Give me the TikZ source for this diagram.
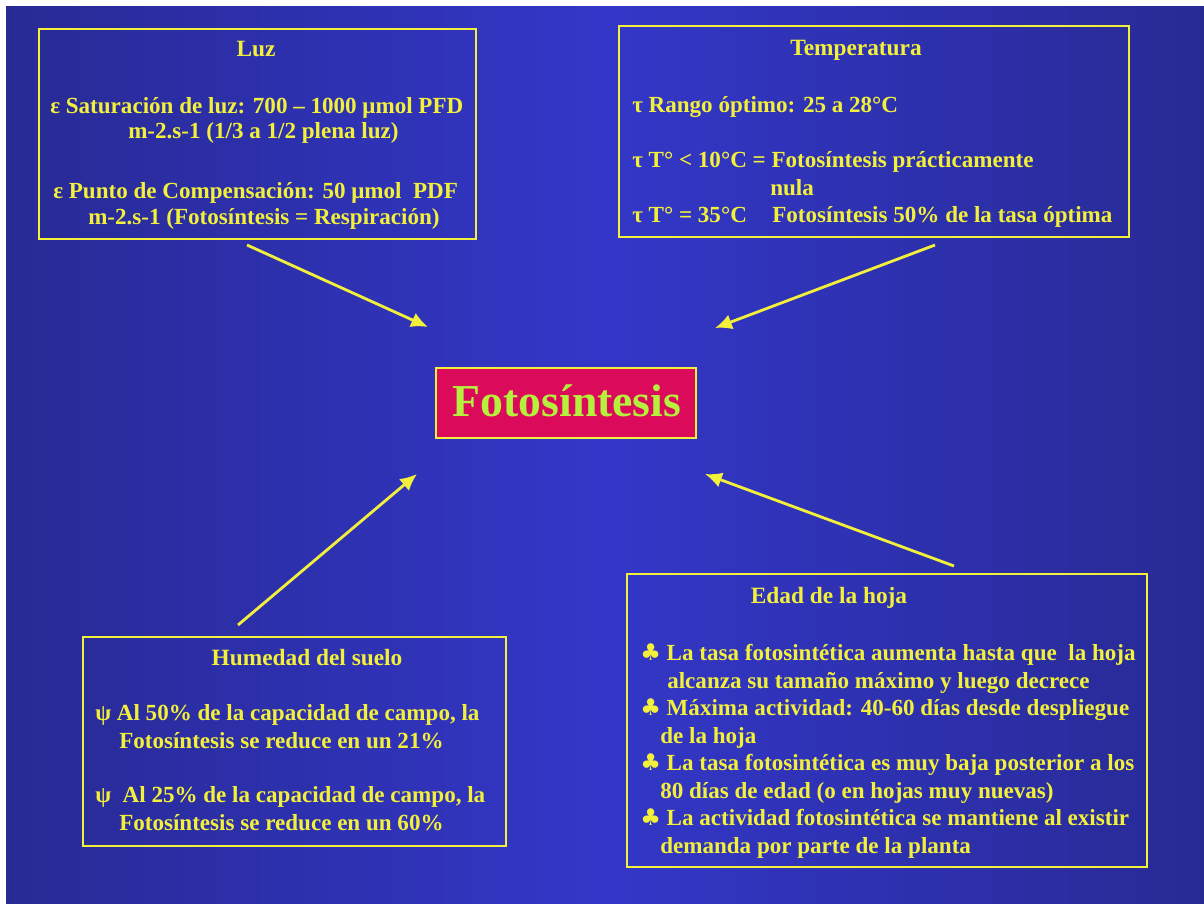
\documentclass[tikz,border=0pt]{standalone}
\usepackage{fontspec}
\setmainfont{Liberation Serif}
\newfontfamily\symfont{DejaVu Sans}
\usetikzlibrary{arrows.meta}
\definecolor{bgdark}{HTML}{282A94}
\definecolor{bgmid}{HTML}{3337C8}
\definecolor{ylw}{HTML}{F2F03A}
\definecolor{crim}{HTML}{DC0A5A}
\definecolor{lgreen}{HTML}{B4F03C}
\begin{document}
\begin{tikzpicture}[x=0.025cm,y=-0.025cm,
  box/.style={draw=ylw,line width=1.6pt,anchor=north west,inner sep=0pt},
  txt/.style={anchor=base west,inner sep=0pt,text=ylw,font=\fontsize{16.4}{19}\selectfont\bfseries},
  ttl/.style={anchor=base,inner sep=0pt,text=ylw,font=\fontsize{16.6}{19}\selectfont\bfseries},
  arr/.style={draw=ylw,line width=2pt,-{Latex[length=12pt,width=11pt]}}]
\useasboundingbox (0,0) rectangle (1204,903);
\fill[white] (0,0) rectangle (1204,903);
\shade[left color=bgdark,right color=bgdark,middle color=bgmid] (6,6) rectangle (1204,903);

% boxes
\node[box,minimum width=10.925cm,minimum height=5.25cm] (luz) at (38,28) {};
\node[box,minimum width=12.75cm,minimum height=5.275cm] (temp) at (618,25) {};
\node[box,minimum width=10.575cm,minimum height=5.225cm] (hum) at (82,636) {};
\node[box,minimum width=13cm,minimum height=7.325cm] (edad) at (626,573) {};
\node[box,fill=crim,minimum width=6.5cm,minimum height=1.75cm] (foto) at (435,367) {};
\node[anchor=base,inner sep=0pt,text=lgreen,font=\fontsize{32.5}{36}\selectfont\bfseries] (fotot) at (567,416) {Fotosíntesis};

% Luz
\node[ttl] (luzt) at (256,56) {Luz};
\node[txt] (luz1) at (50,113) {ε Saturación de luz: 700 – 1000 μmol PFD};
\node[txt] (luz2) at (128,138) {m-2.s-1 (1/3 a 1/2 plena luz)};
\node[txt] (luz3) at (53,198) {ε Punto de Compensación: 50 μmol\ \ PDF};
\node[txt] (luz4) at (88,224) {m-2.s-1 (Fotosíntesis = Respiración)};

% Temperatura
\node[ttl] (tempt) at (856,55) {Temperatura};
\node[txt] (tem1) at (632,112) {τ Rango óptimo: 25 a 28°C};
\node[txt] (tem2) at (632,167) {τ T° < 10°C = Fotosíntesis prácticamente};
\node[txt] (tem3) at (770,195) {nula};
\node[txt] (tem4) at (632,222) {τ T° = 35°C};
\node[txt] (tem5) at (772,222) {Fotosíntesis 50\% de la tasa óptima};

% Humedad
\node[ttl] (humt) at (307,665) {Humedad del suelo};
\node[txt] (hum1) at (95,720) {ψ Al 50\% de la capacidad de campo, la};
\node[txt] (hum2) at (119,748) {Fotosíntesis se reduce en un 21\%};
\node[txt] (hum3) at (95,802) {ψ\ \ Al 25\% de la capacidad de campo, la};
\node[txt] (hum4) at (119,830) {Fotosíntesis se reduce en un 60\%};

% Edad
\node[ttl] (edadt) at (829,603) {Edad de la hoja};
\node[txt] (e1) at (640,660) {{\symfont ♣} La tasa fotosintética aumenta hasta que\ \ la hoja};
\node[txt] (e2) at (667,688) {alcanza su tamaño máximo y luego decrece};
\node[txt] (e3) at (640,715) {{\symfont ♣} Máxima actividad: 40-60 días desde despliegue};
\node[txt] (e4) at (660,743) {de la hoja};
\node[txt] (e5) at (640,770) {{\symfont ♣} La tasa fotosintética es muy baja posterior a los};
\node[txt] (e6) at (660,798) {80 días de edad (o en hojas muy nuevas)};
\node[txt] (e7) at (640,825) {{\symfont ♣} La actividad fotosintética se mantiene al existir};
\node[txt] (e8) at (660,853) {demanda por parte de la planta};

% arrows
\coordinate (a1s) at (247,245); \coordinate (a1e) at (428,327);
\coordinate (a2s) at (935,245); \coordinate (a2e) at (715,328);
\coordinate (a3s) at (238,625); \coordinate (a3e) at (417,474);
\coordinate (a4s) at (954,566); \coordinate (a4e) at (705,474);
\draw[arr] (a1s) -- (a1e);
\draw[arr] (a2s) -- (a2e);
\draw[arr] (a3s) -- (a3e);
\draw[arr] (a4s) -- (a4e);
\end{tikzpicture}
\end{document}
